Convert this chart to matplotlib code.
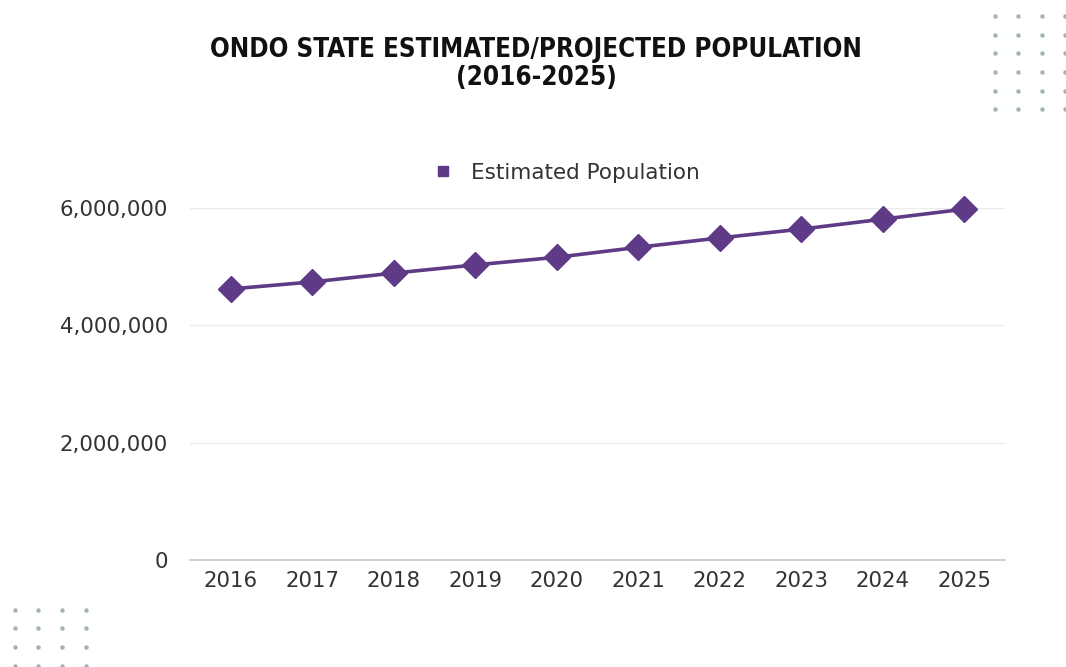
import matplotlib
matplotlib.use("Agg")
import matplotlib.pyplot as plt
from matplotlib.ticker import FuncFormatter

years = ["2016", "2017", "2018", "2019", "2020", "2021", "2022", "2023", "2024", "2025"]
population = [4620000, 4740000, 4890000, 5030000, 5160000, 5330000, 5490000, 5640000, 5810000, 5980000]
y_ticks = [0, 2000000, 4000000, 6000000]
series_name = "Estimated Population"
title_text = "ONDO STATE ESTIMATED/PROJECTED POPULATION\n(2016-2025)"

W, H = 1066, 667
fig = plt.figure(figsize=(W / 100, H / 100), dpi=100)
fig.patch.set_facecolor("white")

ax = fig.add_axes([190 / W, 1 - 560 / H, (1005 - 190) / W, (560 - 208) / H])
x = list(range(len(years)))
purple = "#5e3a87"
ax.plot(x, population, color=purple, lw=2.6, marker="D", markersize=13,
        markerfacecolor=purple, markeredgecolor=purple, clip_on=False, zorder=3,
        label=series_name)
ax.set_xlim(-0.5, len(years) - 0.5)
ax.set_ylim(0, 6000000)
ax.set_yticks(y_ticks)
ax.yaxis.set_major_formatter(FuncFormatter(lambda v, p: f"{int(v):,}"))
ax.set_xticks(x)
ax.set_xticklabels(years)
ax.grid(axis="y", color="#ececec", lw=1)
ax.set_axisbelow(True)
for s in ["top", "right", "left"]:
    ax.spines[s].set_visible(False)
ax.spines["bottom"].set_color("#c8c8c8")
ax.spines["bottom"].set_linewidth(1.2)
ax.tick_params(length=0, labelsize=15.3, labelcolor="#333333", pad=8)
ax.tick_params(axis="y", pad=16)
for lab in ax.get_xticklabels() + ax.get_yticklabels():
    lab.set_fontfamily("DejaVu Sans")

# legend
fig.legend(handles=[plt.Line2D([], [], ls="none", marker="s", markersize=7,
                               color=purple)],
           labels=[series_name], loc="center left", bbox_to_anchor=(424 / W, 1 - 173 / H),
           frameon=False, handlelength=0.8, handletextpad=0.9, borderpad=0,
           prop={"family": "DejaVu Sans", "size": 15.5},
           labelcolor="#333333")

fig.text(536 / W, 1 - 64 / H, title_text, ha="center", va="center",
         fontsize=18.6, fontweight="heavy", family="DejaVu Sans", fontstretch="condensed",
         color="#111111", linespacing=1.1)

# decorative dots
dot_color = "#a3b3b3"
for cx in [995, 1018, 1042, 1065]:
    for cy in [16, 35, 53, 72, 91, 109]:
        fig.add_artist(plt.Line2D([cx / W], [1 - cy / H], marker="o", markersize=2.2,
                                  color=dot_color, ls="none", transform=fig.transFigure))
for cx in [15, 38, 62, 86]:
    for cy in [610, 628, 647, 666]:
        fig.add_artist(plt.Line2D([cx / W], [1 - cy / H], marker="o", markersize=2.2,
                                  color=dot_color, ls="none", transform=fig.transFigure))

fig.savefig("out.png", dpi=100, facecolor="white")
